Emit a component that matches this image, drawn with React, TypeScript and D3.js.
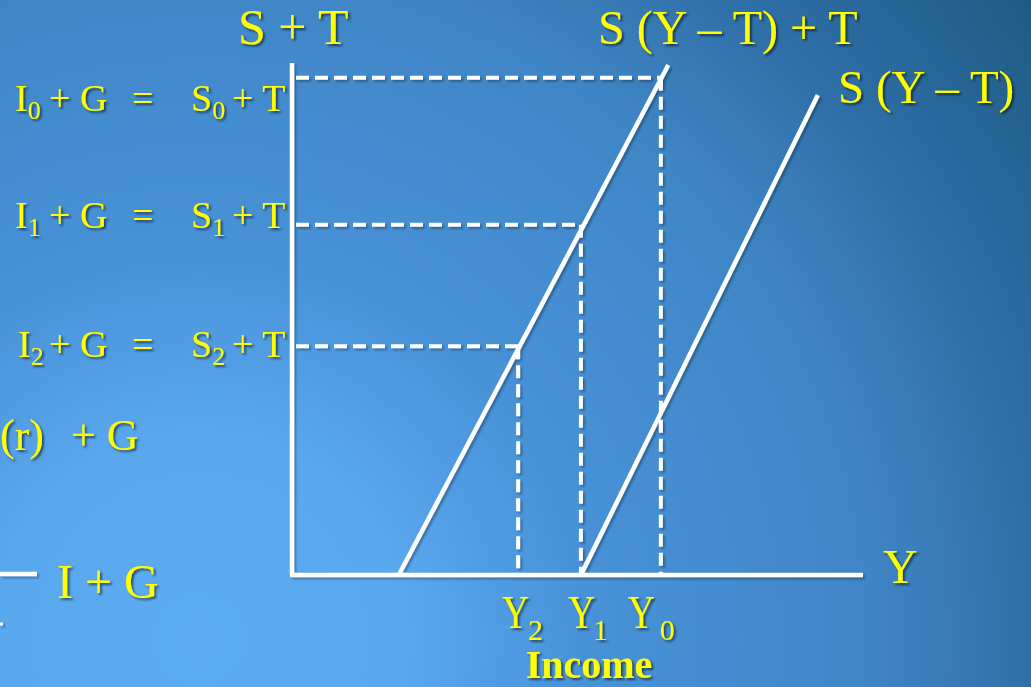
import React from "react";
import * as d3 from "d3";

// ---- data (abstract units) ----
const incomeLevels = [
  { name: "Y", sub: "2", value: 39.6 },
  { name: "Y", sub: "1", value: 50.6 },
  { name: "Y", sub: "0", value: 64.6 },
];
const savingLevels = [
  { i: "0", s: "0", value: 97.1 },
  { i: "1", s: "1", value: 68.4 },
  { i: "2", s: "2", value: 44.7 },
];
// index of income level matched to each saving level
const levelPairs = [
  [2, 0],
  [1, 1],
  [0, 2],
];
const lineSTplusT: [number, number][] = [
  [18.7, 0],
  [65.9, 99.6],
];
const lineST: [number, number][] = [
  [50.6, 0],
  [92.1, 93.75],
];

const W = 1031;
const H = 687;
const FONT = "'Liberation Serif', 'Times New Roman', serif";
const YELLOW = "#ffff00";

export default function App() {
  const x = d3.scaleLinear().domain([0, 100]).range([292, 863]);
  const y = d3.scaleLinear().domain([0, 100]).range([575, 63]);
  const line = d3
    .line<[number, number]>()
    .x((d) => x(d[0]))
    .y((d) => y(d[1]));

  const leftRows = [
    { base: 111, ix: 15 },
    { base: 228, ix: 15 },
    { base: 357, ix: 18 },
  ];

  return (
    <svg
      width={W}
      height={H}
      style={{ position: "absolute", left: 0, top: 0 }}
      xmlns="http://www.w3.org/2000/svg"
    >
      <defs>
        <radialGradient id="bg" gradientUnits="userSpaceOnUse" cx={200} cy={640} r={1060}>
          <stop offset="0" stopColor="#5cacf2" />
          <stop offset="0.19" stopColor="#5aa8ee" />
          <stop offset="0.36" stopColor="#4892d8" />
          <stop offset="0.63" stopColor="#3f86c6" />
          <stop offset="0.785" stopColor="#2f6fa8" />
          <stop offset="1" stopColor="#1e5a82" />
        </radialGradient>
        <filter id="ts" x="-20%" y="-20%" width="140%" height="140%">
          <feDropShadow dx="2" dy="2" stdDeviation="1.2" floodColor="#000" floodOpacity="0.55" />
        </filter>
        <filter id="ls" x="-5%" y="-5%" width="110%" height="110%">
          <feDropShadow dx="2" dy="2" stdDeviation="1" floodColor="#000" floodOpacity="0.3" />
        </filter>
      </defs>
      <rect x={0} y={0} width={W} height={H} fill="url(#bg)" />

      {/* lines */}
      <g stroke="#ffffff" fill="none" filter="url(#ls)">
        {/* axes */}
        <line x1={x(0)} y1={y(100)} x2={x(0)} y2={y(0)} strokeWidth={4.5} />
        <line x1={x(0) - 2} y1={y(0)} x2={x(100)} y2={y(0)} strokeWidth={4.5} />
        {/* I + G line fragment on the left */}
        <line x1={0} y1={574} x2={37} y2={574} strokeWidth={4.5} />
        <line x1={0} y1={624} x2={3} y2={624} strokeWidth={3} />
        {/* dashed guides */}
        {levelPairs.map(([yi, si], k) => (
          <g key={k} strokeWidth={4} strokeDasharray="13,6">
            <line
              x1={x(0) + 4}
              y1={y(savingLevels[si].value)}
              x2={x(incomeLevels[yi].value)}
              y2={y(savingLevels[si].value)}
            />
            <line
              x1={x(incomeLevels[yi].value)}
              y1={y(savingLevels[si].value)}
              x2={x(incomeLevels[yi].value)}
              y2={y(0)}
            />
          </g>
        ))}
        {/* saving curves */}
        <path d={line(lineSTplusT) || ""} strokeWidth={4.5} />
        <path d={line(lineST) || ""} strokeWidth={4.5} />
      </g>

      {/* texts */}
      <g fill={YELLOW} fontFamily={FONT} filter="url(#ts)">
        <text x={238} y={44} fontSize={50}>
          S + T
        </text>
        <text x={598} y={44} fontSize={48}>
          S (Y – T) + T
        </text>
        <text x={838} y={103} fontSize={47}>
          S (Y – T)
        </text>
        <text x={883} y={583} fontSize={48}>
          Y
        </text>

        {savingLevels.map((s, k) => {
          const r = leftRows[k];
          return (
            <g key={k} fontSize={38}>
              <text x={r.ix} y={r.base}>
                I
                <tspan fontSize={26} dy={8}>
                  {s.i}
                </tspan>
              </text>
              <text x={49} y={r.base}>
                + G
              </text>
              <text x={132} y={r.base}>
                =
              </text>
              <text x={191} y={r.base}>
                S
                <tspan fontSize={26} dy={8}>
                  {s.s}
                </tspan>
              </text>
              <text x={232} y={r.base}>
                + T
              </text>
            </g>
          );
        })}

        <text x={0} y={450} fontSize={44}>
          (r)
        </text>
        <text x={71} y={450} fontSize={44}>
          + G
        </text>
        <text x={57} y={598} fontSize={48}>
          I + G
        </text>

        {incomeLevels.map((d, k) => {
          const offs = [-16, -13, -33];
          const subOff = [26, 25, 32];
          const px = x(d.value) + offs[k];
          return (
            <g key={k}>
              <text
                transform={`translate(${px},628) scale(0.8,1)`}
                x={0}
                y={0}
                fontSize={47}
              >
                {d.name}
              </text>
              <text x={px + subOff[k]} y={640} fontSize={30}>
                {d.sub}
              </text>
            </g>
          );
        })}
        <text x={589} y={678} fontSize={40} fontWeight="bold" textAnchor="middle">
          Income
        </text>
      </g>
    </svg>
  );
}
